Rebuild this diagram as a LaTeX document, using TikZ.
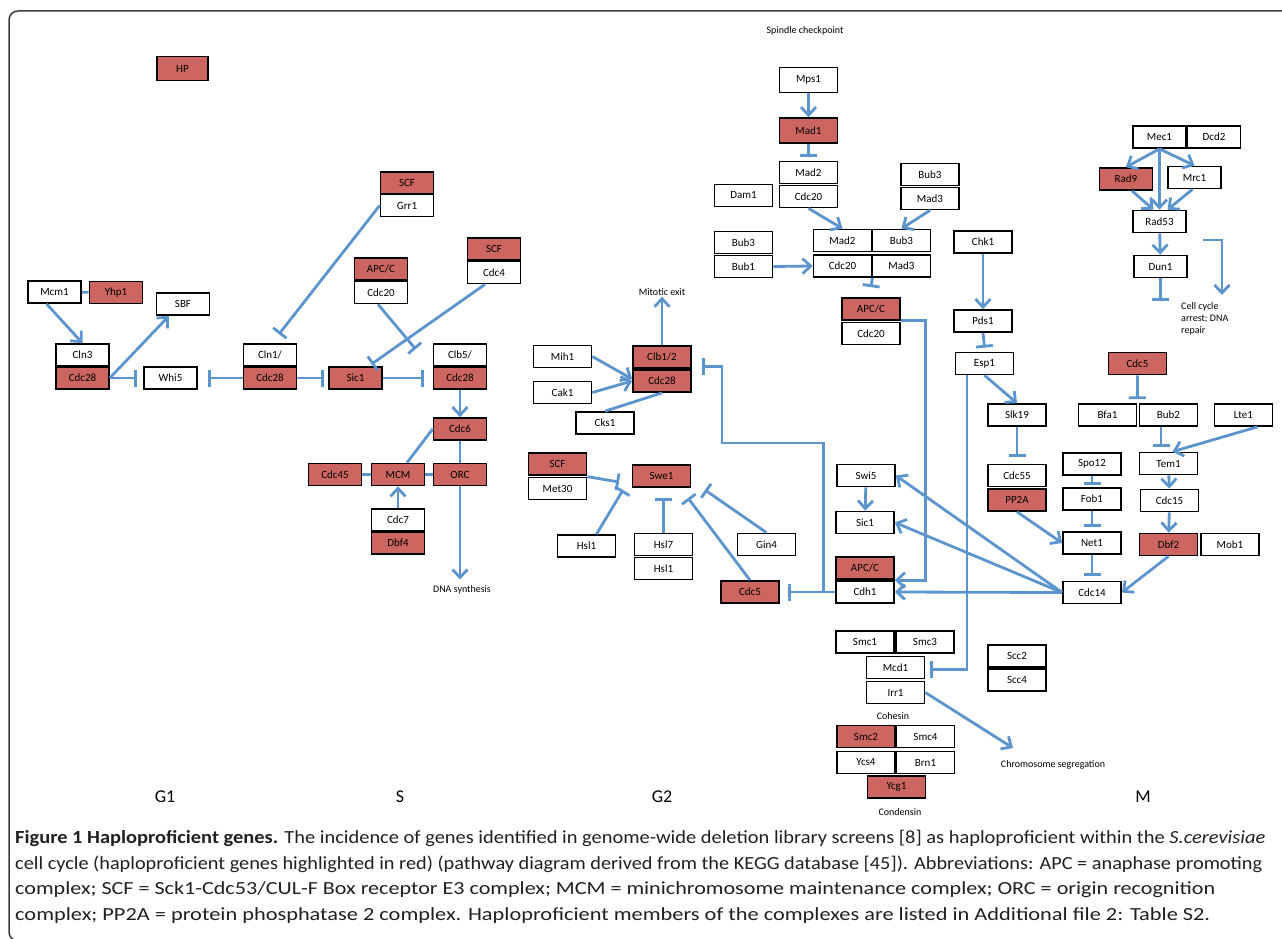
\documentclass[tikz,border=0pt]{standalone}
\usepackage{fontspec}
\setmainfont{Carlito}
\usepackage{graphicx}
\usepackage{tikz}
\usetikzlibrary{positioning, arrows.meta, calc}
\usepackage{xcolor}

\definecolor{hpred}{RGB}{205,102,96}
\definecolor{linkblue}{RGB}{92,148,206}
\definecolor{framegray}{RGB}{60,60,60}
\definecolor{captext}{RGB}{35,31,32}

\tikzset{
  gene/.style={draw, line width=1.7pt, minimum width=58pt, minimum height=22pt,
    inner sep=0pt, font=\fontsize{11}{12}\selectfont},
  short/.style={gene, minimum width=53pt},
  hp/.style={fill=hpred},
  note/.style={font=\fontsize{10}{12}\selectfont, inner sep=1pt},
  phase/.style={font=\fontsize{18}{20}\selectfont},
  link/.style={draw=linkblue, line width=2.8pt},
  act/.style={link, -{Straight Barb[length=8pt,width=15pt]}},
  inh/.style={link, -{Bar[width=17pt]}}
}

% caption line stretched to the printed width
\newcommand{\capline}[2]{\resizebox{#1pt}{\height}{#2}}

\begin{document}
\begin{tikzpicture}[x=1pt, y=-1pt]
  \useasboundingbox (0,0) rectangle (1282,939);
  % Outer frame
  \draw[framegray, line width=1.5pt, rounded corners=9pt] (1300,11) -- (9,11) -- (9,941) -- (1300,941);

  % Legend
  \node[short, hp, minimum width=51pt, minimum height=24pt] (hp) at (182.5,68.5) {HP};

  % G1 nodes
  \node[short] (mcm1) at (54.5,292) {Mcm1};
  \node[short, hp] (yhp1) at (116,292.5) {Yhp1};
  \node[short] (sbf) at (183,304) {SBF};
  \node[short] (cln3) at (82.5,355) {Cln3};
  \node[short, hp] (cdc28a) at (82.5,378) {Cdc28};
  \node[short] (whi5) at (170.5,378) {Whi5};
  \node[short] (cln1) at (270,355) {Cln1/};
  \node[short, hp] (cdc28b) at (270,378) {Cdc28};
  \node[short, hp] (sic1a) at (355.5,378) {Sic1};
  \node[short] (clb5) at (460,355) {Clb5/};
  \node[short, hp] (cdc28c) at (460,378) {Cdc28};
  \node[short, hp] (scf1) at (407,183) {SCF};
  \node[short] (grr1) at (407,205.5) {Grr1};
  \node[short, hp] (apc1) at (381,269) {APC/C};
  \node[short] (cdc20a) at (381,292.5) {Cdc20};
  \node[short, hp] (scf2) at (494,249) {SCF};
  \node[short] (cdc4) at (494,272.5) {Cdc4};

  % S nodes
  \node[short, hp] (cdc6) at (460,429) {Cdc6};
  \node[short, hp] (cdc45) at (335,474.5) {Cdc45};
  \node[short, hp] (mcm) at (398,474.5) {MCM};
  \node[short, hp] (orc) at (460,474.5) {ORC};
  \node[short] (cdc7) at (398,520) {Cdc7};
  \node[short, hp] (dbf4) at (398,543) {Dbf4};
  \node[note] (dna) at (462,590) {DNA synthesis};

  % G1 and S links
  \draw[link] (mcm1) -- (yhp1);
  \draw[act] ([xshift=-8pt]mcm1.south) -- (cln3.north);
  \draw[act] (cdc28a.east) -- ([xshift=-14pt]sbf.south);
  \draw[inh] (cdc28a.east) -- ([xshift=-6pt]whi5.west);
  \draw[inh] (cdc28b.west) -- ([xshift=10pt]whi5.east);
  \draw[inh] (cdc28b.east) -- ([xshift=-4pt]sic1a.west);
  \draw[inh] (sic1a.east) -- ([xshift=-9pt]cdc28c.west);
  \draw[inh] (grr1.west) -- ([xshift=9pt,yshift=9pt]cln1.north);
  \draw[inh] ([xshift=-3pt]cdc20a.south) -- ([xshift=-17pt,yshift=-6pt]clb5.north west);
  \draw[inh] ([xshift=-9pt]cdc4.south) -- ([xshift=16pt,yshift=2pt]sic1a.north);
  \draw[act] (cdc28c) -- (cdc6);
  \draw[link] (cdc6) -- (orc);
  \draw[link] (cdc6.west) -- ([xshift=9pt]mcm.north);
  \draw[link] (cdc45) -- (mcm);
  \draw[link] (mcm) -- (orc);
  \draw[act] (cdc7) -- (mcm);
  \draw[act] (orc) -- ([xshift=-2pt,yshift=5pt]dna.north);

  % G2 nodes
  \node[note] (mitexit) at (662,292) {Mitotic exit};
  \node[gene, hp] (clb12) at (662,357) {Clb1/2};
  \node[gene, hp] (cdc28d) at (662,381) {Cdc28};
  \node[gene] (mih1) at (562.5,356.5) {Mih1};
  \node[gene] (cak1) at (562.5,392.5) {Cak1};
  \node[gene] (cks1) at (605,423) {Cks1};
  \node[gene, hp] (scf3) at (557.5,464) {SCF};
  \node[gene] (met30) at (557.5,488.5) {Met30};
  \node[gene, hp] (swe1) at (661.5,476) {Swe1};
  \node[gene] (hsl1a) at (586.5,546) {Hsl1};
  \node[gene] (hsl7) at (663.5,544.5) {Hsl7};
  \node[gene] (hsl1b) at (663.5,568.5) {Hsl1};
  \node[gene] (gin4) at (766.5,544.5) {Gin4};
  \node[gene, hp] (cdc5a) at (750,592) {Cdc5};

  % G2 links
  \draw[act] (clb12) -- (mitexit);
  \draw[act] (mih1.east) -- ([yshift=2pt]cdc28d.west);
  \draw[act] (cak1.east) -- (cdc28d.west);
  \draw[link] (cks1.north) -- (cdc28d.south);
  \coordinate (swe1met) at (619,482);
  \coordinate (swe1hsl) at (623,490);
  \coordinate (swe1hsl7) at (663.5,498);
  \coordinate (swe1cdc5) at (688,498);
  \coordinate (swe1gin) at (705,490);
  \draw[inh] (met30.north east) -- (swe1met);
  \draw[inh] ([xshift=10pt]hsl1a.north) -- (swe1hsl);
  \draw[inh] (hsl7.north) -- (swe1hsl7);
  \draw[inh] (cdc5a.north) -- (swe1cdc5);
  \draw[inh] (gin4.north) -- (swe1gin);

  % Spindle checkpoint nodes
  \node[note] (spindle) at (805,31) {Spindle checkpoint};
  \node[gene, minimum height=25pt] (mps1) at (808.5,80) {Mps1};
  \node[gene, hp, minimum height=25pt] (mad1) at (808.5,130.5) {Mad1};
  \node[gene] (mad2a) at (808.5,172.5) {Mad2};
  \node[gene] (cdc20b) at (808.5,196.5) {Cdc20};
  \node[gene] (dam1) at (743.5,195.5) {Dam1};
  \node[gene] (bub3a) at (930,174.5) {Bub3};
  \node[gene] (mad3a) at (930,198.5) {Mad3};
  \node[gene] (bub3b) at (743.5,242.5) {Bub3};
  \node[gene] (bub1) at (743.5,266.5) {Bub1};
  \node[gene] (mad2b) at (842.5,240.5) {Mad2};
  \node[gene] (bub3c) at (901.5,240.5) {Bub3};
  \node[gene] (cdc20c) at (842.5,266) {Cdc20};
  \node[gene] (mad3b) at (901.5,266) {Mad3};
  \node[gene, hp] (apc2) at (871,309) {APC/C};
  \node[gene] (cdc20d) at (871,333.5) {Cdc20};

  % Spindle checkpoint links
  \draw[act] (mps1) -- (mad1);
  \draw[inh] (mad1.south) -- ([yshift=4pt]mad2a.north);
  \draw[act] (cdc20b.south) -- (mad2b.north);
  \draw[act] (mad3a.south) -- (bub3c.north);
  \draw[act] (bub1.east) -- (cdc20c.west);
  \draw[inh] (cdc20c.south east) -- ([yshift=10pt]apc2.north);

  % M nodes
  \node[gene] (chk1) at (983,242) {Chk1};
  \node[gene] (pds1) at (983,321) {Pds1};
  \node[gene] (esp1) at (984.5,363.5) {Esp1};
  \node[short] (mec1) at (1159.5,137) {Mec1};
  \node[short] (dcd2) at (1214,137) {Dcd2};
  \node[short, hp] (rad9) at (1126,179) {Rad9};
  \node[short] (mrc1) at (1194.5,177.5) {Mrc1};
  \node[short] (rad53) at (1159.5,221.5) {Rad53};
  \node[short] (dun1) at (1160.5,266.5) {Dun1};
  \node[note, anchor=north west, align=left] (arrest) at (1180,301) {Cell cycle\\arrest; DNA\\repair};
  \node[gene] (slk19) at (1017,415) {Slk19};
  \node[gene] (cdc55) at (1017,475.5) {Cdc55};
  \node[gene, hp] (pp2a) at (1017,500) {PP2A};
  \node[gene] (spo12) at (1092,464) {Spo12};
  \node[gene] (fob1) at (1092,499) {Fob1};
  \node[gene] (net1) at (1092,543) {Net1};
  \node[gene] (cdc14) at (1092,592.5) {Cdc14};
  \node[gene, hp] (cdc5b) at (1137.5,363.5) {Cdc5};
  \node[gene] (bfa1) at (1107.5,415) {Bfa1};
  \node[gene] (bub2) at (1168.5,415) {Bub2};
  \node[gene] (lte1) at (1243.5,415) {Lte1};
  \node[gene] (tem1) at (1168.5,463.5) {Tem1};
  \node[gene] (cdc15) at (1169.5,500.5) {Cdc15};
  \node[gene, hp] (dbf2) at (1168.5,544.5) {Dbf2};
  \node[gene] (mob1) at (1230,544.5) {Mob1};
  \node[gene] (swi5) at (866,475.5) {Swi5};
  \node[gene] (sic1b) at (865,522.5) {Sic1};
  \node[gene, hp] (apc3) at (865,568) {APC/C};
  \node[gene] (cdh1) at (865,592) {Cdh1};

  % Cohesin and condensin
  \node[gene] (smc1) at (865,642) {Smc1};
  \node[gene] (smc3) at (925,642) {Smc3};
  \node[gene] (mcd1) at (895.5,667.5) {Mcd1};
  \node[gene] (irr1) at (895.5,692.5) {Irr1};
  \node[note] (cohesin) at (893,716) {Cohesin};
  \node[gene, hp] (smc2) at (866,736.5) {Smc2};
  \node[gene] (smc4) at (925.5,736.5) {Smc4};
  \node[gene] (ycs4) at (866,762.5) {Ycs4};
  \node[gene] (brn1) at (925.5,762.5) {Brn1};
  \node[gene, hp] (ycg1) at (896.5,787) {Ycg1};
  \node[note] (condensin) at (900,812) {Condensin};
  \node[gene] (scc2) at (1017,656) {Scc2};
  \node[gene] (scc4) at (1017,680) {Scc4};
  \node[note] (chromseg) at (1053,765) {Chromosome segregation};

  % M links
  \draw[act] (chk1) -- (pds1);
  \draw[inh] (pds1.south) -- ([yshift=4pt]esp1.north);
  \draw[act] (esp1.south) -- (slk19.north);
  \draw[inh] ([xshift=-17.5pt]esp1.south) |- ([xshift=5pt,yshift=-2pt]mcd1.east);
  \draw[inh] (slk19) -- ([yshift=7pt]cdc55.north);
  \draw[act] (pp2a.south) -- (net1.west);
  \draw[inh] (spo12.south) -- ([yshift=2pt]fob1.north);
  \draw[inh] (fob1.south) -- ([yshift=4pt]net1.north);
  \draw[inh] (net1.south) -- ([yshift=5pt]cdc14.north);
  \draw[inh] (cdc5b.south) -- ([yshift=4pt]bfa1.north east);
  \draw[inh] ([xshift=-7.5pt]bub2.south) -- ([xshift=-7.5pt,yshift=5pt]tem1.north);
  \draw[act] ([xshift=14pt]lte1.south) -- ([xshift=4pt]tem1.north);
  \draw[act] (tem1) -- (cdc15);
  \draw[act] (cdc15) -- (dbf2);
  \draw[act] (dbf2.south) -- (cdc14.east);
  \draw[act] (cdc14.west) -- (swi5.east);
  \draw[act] (cdc14.west) -- (sic1b.east);
  \draw[act] (cdc14.west) -- (cdh1.east);
  \draw[act] (swi5) -- (sic1b);
  \draw[inh] (cdh1.west) -- ([xshift=8pt]cdc5a.east);
  \coordinate (clbbend) at (722,443);
  \draw[inh] ([xshift=-12pt]cdh1.west) |- (clbbend) |- ([xshift=10pt,yshift=2pt]clb12.south east);
  \draw[act] (apc2.south east) -- ++(25,0) |- (cdh1.north east);
  \draw[act] (mec1.south) -- (rad9.north);
  \draw[act] (mec1.south) -- (mrc1.north);
  \draw[act] (mec1) -- (rad53);
  \draw[act] ([xshift=6pt]rad9.south) -- ([xshift=-6pt]rad53.north);
  \draw[act] ([xshift=-2pt]mrc1.south) -- ([xshift=8pt]rad53.north);
  \draw[act] (rad53) -- (dun1);
  \coordinate (dunend) at (1160.5,301);
  \draw[inh] (dun1.south) -- (dunend);
  \coordinate (arrstart) at (1203,240);
  \coordinate (arrend) at (1222,295);
  \draw[act] (arrstart) -| (arrend);
  \coordinate (segend) at (1013,748);
  \draw[act] (irr1.east) -- (segend);

  % Phase labels
  \node[phase] (g1) at (165,797) {G1};
  \node[phase] (sph) at (400,797) {S};
  \node[phase] (g2) at (662,797) {G2};
  \node[phase] (mph) at (1143,797) {M};

  % Caption
  \begin{scope}[every node/.style={anchor=west, inner sep=0pt, text=captext, font=\fontsize{18.5}{20}\selectfont}]
    \node (cap1) at (15,838) {\capline{1250}{\textbf{Figure 1 Haploproficient genes.} The incidence of genes identified in genome-wide deletion library screens [8] as haploproficient within the \textit{S.cerevisiae}}};
    \node (cap2) at (15,864) {\capline{1247}{cell cycle (haploproficient genes highlighted in red) (pathway diagram derived from the KEGG database [45]). Abbreviations: APC = anaphase promoting}};
    \node (cap3) at (15,890) {\capline{1200}{complex; SCF = Sck1-Cdc53/CUL-F Box receptor E3 complex; MCM = minichromosome maintenance complex; ORC = origin recognition}};
    \node (cap4) at (15,916) {\capline{1195}{complex; PP2A = protein phosphatase 2 complex. Haploproficient members of the complexes are listed in Additional file 2: Table S2.}};
  \end{scope}
\end{tikzpicture}
\end{document}
